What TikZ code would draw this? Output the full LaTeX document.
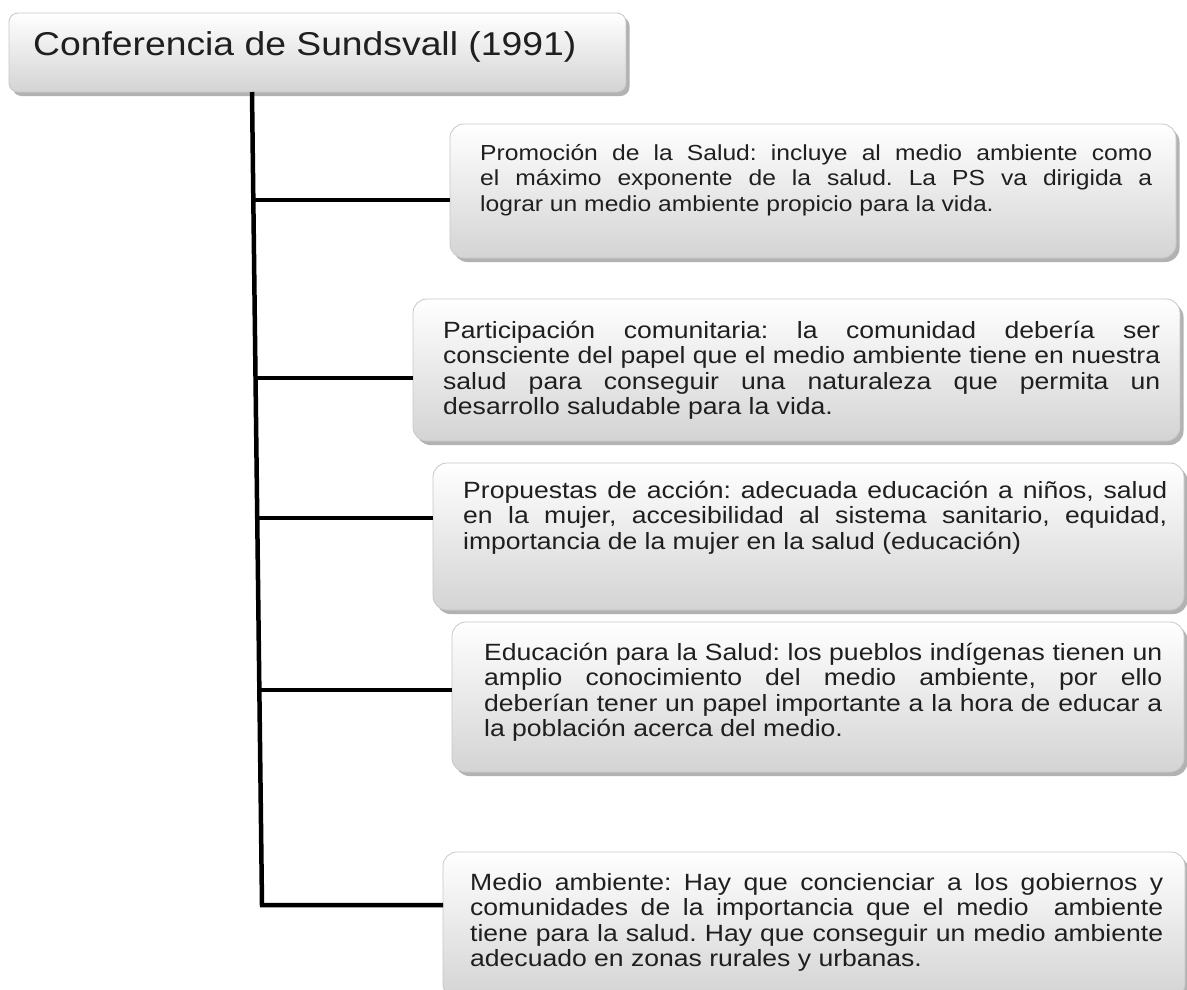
\documentclass[tikz,border=0pt]{standalone}
\usepackage{fontspec}
\setmainfont{Liberation Sans}
\usetikzlibrary{calc,shadows}
\frenchspacing

% one justified line of a card text
\newcommand\jl[1]{\makebox[\linewidth][s]{#1}\\}
% card text: #1 font size, #2 printed width (pt), #3 lines
\newcommand\cardtext[3]{%
  \scalebox{1.13}[1]{\parbox[t]{\dimexpr #2pt*100/113\relax}{%
    \frenchspacing\fontsize{#1}{25.5}\selectfont #3}}}

\tikzset{
  card/.style={draw=black!22, line width=0.8pt, rounded corners=14pt,
    top color=white, bottom color=black!17, anchor=north west,
    inner sep=0pt, outer sep=0pt,
    drop shadow={shadow xshift=3.5pt, shadow yshift=-4pt,
      fill=black!55, opacity=0.55}},
  cardtxt/.style={anchor=base west, inner sep=0pt, text=black!88},
  branch/.style={line width=4.5pt, black, line join=miter},
}

\begin{document}
\begin{tikzpicture}[x=1pt, y=-1pt]
\useasboundingbox (0,0) rectangle (1187,989);
\clip (0,0) rectangle (1187,989);

% heading
\node[card, rounded corners=9pt, minimum width=617pt, minimum height=79pt]
  (title) at (9,13) {};
\node[cardtxt] (titletxt) at ($(title.north west)+(24,42)$)
  {\scalebox{1.13}[1]{\fontsize{33}{36}\selectfont Conferencia de Sundsvall (1991)}};

% cards
\node[card, minimum width=726pt, minimum height=134pt] (b1) at (450,124) {};
\node[card, minimum width=767pt, minimum height=142pt] (b2) at (413,299) {};
\node[card, minimum width=751pt, minimum height=147pt] (b3) at (433,463) {};
\node[card, minimum width=732pt, minimum height=150pt] (b4) at (452,622) {};
\node[card, minimum width=742pt, minimum height=146pt] (b5) at (443,852) {};

\node[cardtxt] (t1) at ($(b1.north west)+(30,36)$) {\cardtext{21.8}{672}{%
  \jl{Promoción de la Salud: incluye al medio ambiente como}
  \jl{el máximo exponente de la salud. La PS va dirigida a}
  lograr un medio ambiente propicio para la vida.}};

\node[cardtxt] (t2) at ($(b2.north west)+(30,39)$) {\cardtext{23.5}{717}{%
  \jl{Participación comunitaria: la comunidad debería ser}
  \jl{consciente del papel que el medio ambiente tiene en nuestra}
  \jl{salud para conseguir una naturaleza que permita un}
  desarrollo saludable para la vida.}};

\node[cardtxt] (t3) at ($(b3.north west)+(30,35)$) {\cardtext{23.5}{704}{%
  \jl{Propuestas de acción: adecuada educación a niños, salud}
  \jl{en la mujer, accesibilidad al sistema sanitario, equidad,}
  importancia de la mujer en la salud (educación)}};

\node[cardtxt] (t4) at ($(b4.north west)+(32,38)$) {\cardtext{23.5}{678}{%
  \jl{Educación para la Salud: los pueblos indígenas tienen un}
  \jl{amplio conocimiento del medio ambiente, por ello}
  \jl{deberían tener un papel importante a la hora de educar a}
  la población acerca del medio.}};

\node[cardtxt] (t5) at ($(b5.north west)+(27,38)$) {\cardtext{23.5}{693}{%
  \jl{Medio ambiente: Hay que concienciar a los gobiernos y}
  \jl{comunidades de la importancia que el medio\ \ ambiente}
  \jl{tiene para la salud. Hay que conseguir un medio ambiente}
  adecuado en zonas rurales y urbanas.}};

% trunk and branches
\coordinate (tx) at (252,0);
\coordinate (trunktop) at (title.south -| tx);
\coordinate (trunkbot) at (262,905);
\coordinate (j1) at ($(trunktop)!{(200-92)/813}!(trunkbot)$);
\coordinate (j2) at ($(trunktop)!{(378-92)/813}!(trunkbot)$);
\coordinate (j3) at ($(trunktop)!{(518-92)/813}!(trunkbot)$);
\coordinate (j4) at ($(trunktop)!{(690-92)/813}!(trunkbot)$);

\draw[branch] (trunktop) -- (trunkbot) -- (trunkbot -| b5.west);
\draw[branch] (j1) -- (j1 -| b1.west);
\draw[branch] (j2) -- (j2 -| b2.west);
\draw[branch] (j3) -- (j3 -| b3.west);
\draw[branch] (j4) -- (j4 -| b4.west);
\end{tikzpicture}
\end{document}
